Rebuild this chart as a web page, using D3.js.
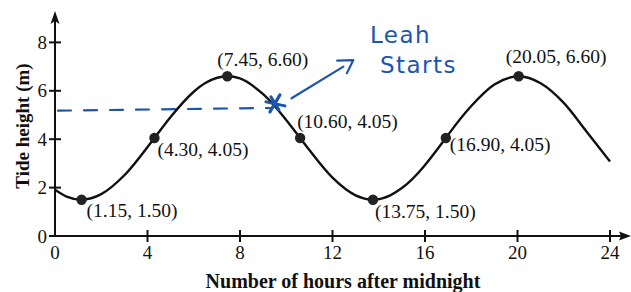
<!DOCTYPE html>
<html>
<head>
<meta charset="utf-8">
<script src="https://cdn.jsdelivr.net/npm/d3@7"></script>
<style>
  body { margin: 0; background: #fff; }
  svg { display: block; }
</style>
</head>
<body>
<div id="chart"></div>
<script>
// Tide curve (hours after midnight, metres)
const curveHours = [0, 0.5, 1.15, 2, 3, 4.30, 5, 6, 6.5, 7.45, 8, 9, 10.60, 11, 12, 13, 13.75, 14.5, 15, 16.90, 17, 18, 19, 20.05, 21, 22, 23, 24];
const curveHeights = [1.91, 1.63, 1.50, 1.73, 2.51, 4.05, 4.92, 5.96, 6.32, 6.60, 6.51, 5.86, 4.05, 3.55, 2.41, 1.68, 1.50, 1.68, 1.98, 4.05, 4.18, 5.37, 6.26, 6.60, 6.31, 5.50, 4.30, 3.08];

// Labelled points
const pointHours = [1.15, 4.30, 7.45, 10.60, 13.75, 16.90, 20.05];
const pointHeights = [1.50, 4.05, 6.60, 4.05, 1.50, 4.05, 6.60];
const pointLabels = ["(1.15, 1.50)", "(4.30, 4.05)", "(7.45, 6.60)", "(10.60, 4.05)", "(13.75, 1.50)", "(16.90, 4.05)", "(20.05, 6.60)"];

const xTicks = [0, 4, 8, 12, 16, 20, 24];
const yTicks = [0, 2, 4, 6, 8];

// Handwritten note
const noteLines = ["Leah", "Starts"];
const dashLine = [[0.13, 5.18], [9.3, 5.29]];
const starAt = [9.51, 5.46];

const width = 631, height = 292;
const blue = "#1b55ad";
const serif = "'Liberation Serif', 'DejaVu Serif', serif";

// label offsets from their point (px)
const labelOffsets = [[5, 17], [3, 18], [-10, -10], [-3, -10], [2, 18], [4, 13], [-13, -13]];

const svg = d3.select("#chart").append("svg")
    .attr("width", width)
    .attr("height", height);

const x = d3.scaleLinear().domain([0, 24]).range([55, 610]);
const y = d3.scaleLinear().domain([0, 8]).range([236, 42.4]);

// Axes (drawn by hand so ticks cross the line)
const axisColor = "#111";
svg.append("line")
    .attr("x1", x(0) - 4).attr("x2", 624)
    .attr("y1", y(0)).attr("y2", y(0))
    .attr("stroke", axisColor).attr("stroke-width", 2);
svg.append("path")
    .attr("d", `M631,${y(0)} L619,${y(0) - 4.5} L621,${y(0)} L619,${y(0) + 4.5} Z`)
    .attr("fill", axisColor);

svg.append("line")
    .attr("x1", x(0)).attr("x2", x(0))
    .attr("y1", y(0) + 1).attr("y2", 18)
    .attr("stroke", axisColor).attr("stroke-width", 2);
svg.append("path")
    .attr("d", `M${x(0)},11 L${x(0) - 4.5},24 L${x(0)},21 L${x(0) + 4.5},24 Z`)
    .attr("fill", axisColor);

const xt = svg.append("g").selectAll("g").data(xTicks).join("g")
    .attr("transform", d => `translate(${x(d)},${y(0)})`);
xt.filter(d => d !== 0).append("line")
    .attr("y1", -6).attr("y2", 6)
    .attr("stroke", axisColor).attr("stroke-width", 2);
xt.append("text")
    .attr("y", 23)
    .attr("text-anchor", "middle")
    .attr("font-family", serif)
    .attr("font-size", 19)
    .attr("fill", "#111")
    .text(d => d);

const yt = svg.append("g").selectAll("g").data(yTicks).join("g")
    .attr("transform", d => `translate(${x(0)},${y(d)})`);
yt.append("line")
    .attr("x1", -6).attr("x2", 6)
    .attr("stroke", axisColor).attr("stroke-width", 2);
yt.append("text")
    .attr("x", -8)
    .attr("dy", "0.35em")
    .attr("text-anchor", "end")
    .attr("font-family", serif)
    .attr("font-size", 19)
    .attr("fill", "#111")
    .text(d => d);

// Axis titles
svg.append("text")
    .attr("x", 343).attr("y", 288)
    .attr("text-anchor", "middle")
    .attr("font-family", serif)
    .attr("font-weight", "bold")
    .attr("font-size", 20)
    .attr("fill", "#111")
    .text("Number of hours after midnight");

svg.append("text")
    .attr("transform", "translate(29,126) rotate(-90)")
    .attr("text-anchor", "middle")
    .attr("font-family", serif)
    .attr("font-weight", "bold")
    .attr("font-size", 19)
    .attr("fill", "#111")
    .text("Tide height (m)");

// Dashed handwritten line (under the curve)
svg.append("line")
    .attr("x1", x(dashLine[0][0])).attr("y1", y(dashLine[0][1]))
    .attr("x2", x(dashLine[1][0])).attr("y2", y(dashLine[1][1]))
    .attr("stroke", blue).attr("stroke-width", 2.2)
    .attr("stroke-dasharray", "13,13")
    .attr("stroke-linecap", "round");

// Tide curve
const tide = curveHours.map((h, i) => [h, curveHeights[i]]);
svg.append("path")
    .datum(tide)
    .attr("fill", "none")
    .attr("stroke", "#111")
    .attr("stroke-width", 2.4)
    .attr("d", d3.line().x(d => x(d[0])).y(d => y(d[1])).curve(d3.curveMonotoneX));

// Points and labels
const pts = pointHours.map((h, i) => ({ h, v: pointHeights[i], label: pointLabels[i], off: labelOffsets[i] }));
svg.append("g").selectAll("circle").data(pts).join("circle")
    .attr("cx", d => x(d.h)).attr("cy", d => y(d.v))
    .attr("r", 5.2)
    .attr("fill", "#222");
svg.append("g").selectAll("text").data(pts).join("text")
    .attr("x", d => x(d.h) + d.off[0])
    .attr("y", d => y(d.v) + d.off[1])
    .attr("font-family", serif)
    .attr("font-size", 19.5)
    .attr("fill", "#111")
    .text(d => d.label);

// Star where Leah starts
const sx = x(starAt[0]), sy = y(starAt[1]);
const starG = svg.append("g").attr("stroke", blue).attr("stroke-linecap", "round");
starG.append("line").attr("x1", sx - 9).attr("y1", sy - 2).attr("x2", sx + 10).attr("y2", sy + 2).attr("stroke-width", 3);
starG.append("line").attr("x1", sx - 5).attr("y1", sy + 8).attr("x2", sx + 5).attr("y2", sy - 9).attr("stroke-width", 3.2);
starG.append("line").attr("x1", sx - 4).attr("y1", sy - 7).attr("x2", sx + 4).attr("y2", sy + 6).attr("stroke-width", 3);

// Arrow toward note
svg.append("path")
    .attr("d", `M${x(10.23)},${y(5.69)} L${x(12.47)},${y(7.0)}`)
    .attr("fill", "none").attr("stroke", blue).attr("stroke-width", 2.2).attr("stroke-linecap", "round");
svg.append("path")
    .attr("d", `M${x(12.2)},${y(7.25)} L${x(12.9)},${y(7.27)} L${x(12.62)},${y(6.72)}`)
    .attr("fill", "none").attr("stroke", blue).attr("stroke-width", 2.2)
    .attr("stroke-linecap", "round").attr("stroke-linejoin", "round");

// Note text
svg.append("g").selectAll("text").data(noteLines).join("text")
    .attr("x", (d, i) => i === 0 ? x(13.62) : x(14.05))
    .attr("y", (d, i) => i === 0 ? y(7.98) : y(6.74))
    .attr("font-family", "'DejaVu Sans', sans-serif")
    .attr("font-size", 23)
    .attr("letter-spacing", 1.5)
    .attr("fill", blue)
    .text(d => d);
</script>
</body>
</html>
